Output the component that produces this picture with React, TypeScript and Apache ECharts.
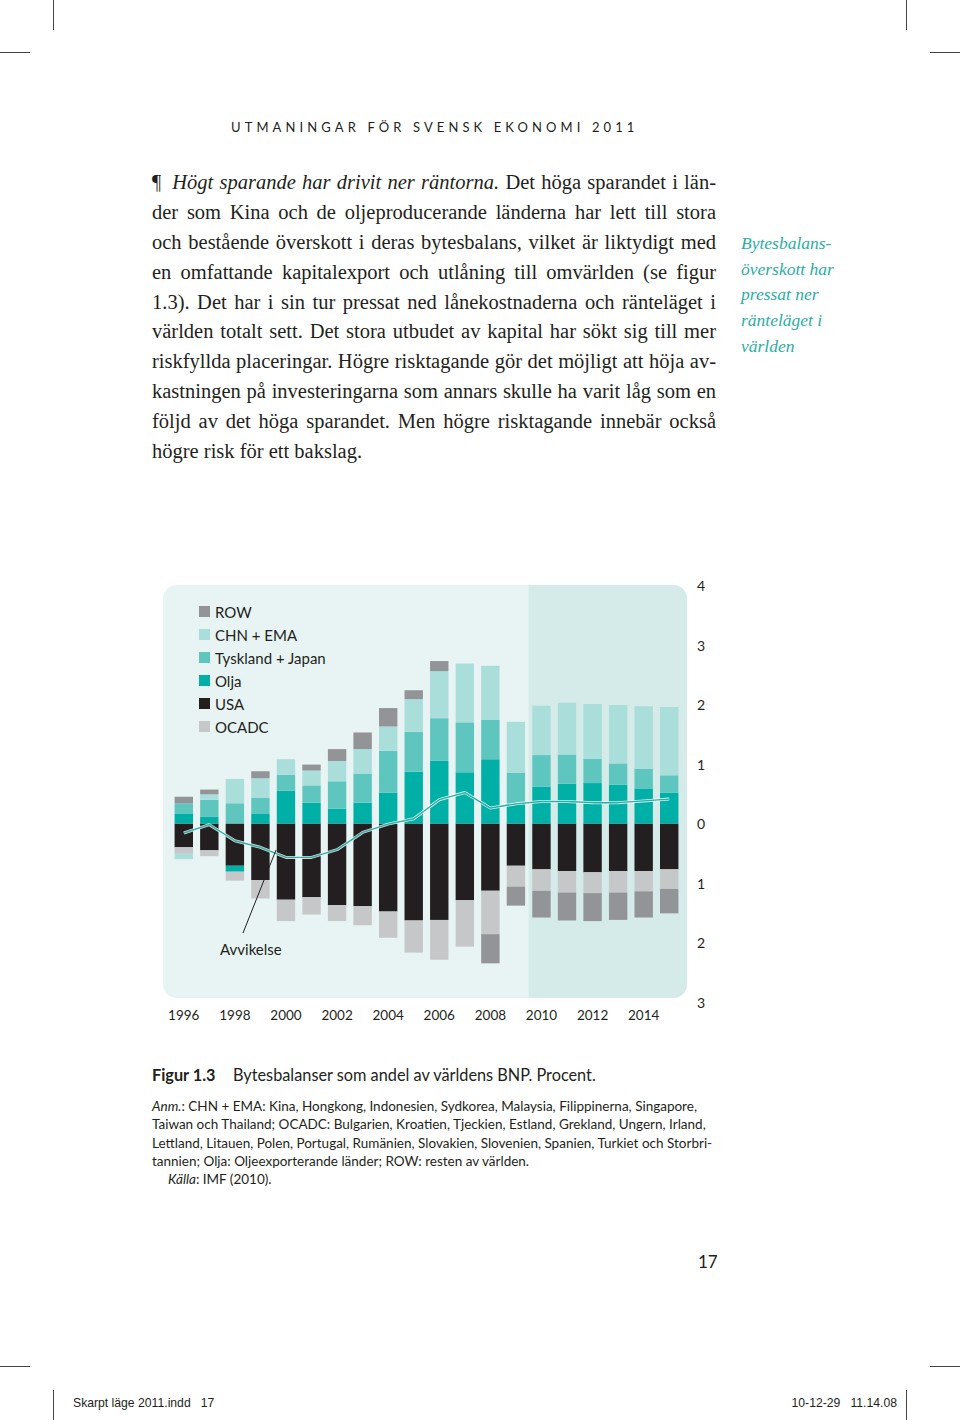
import React, { useEffect, useRef } from "react";
import * as echarts from "echarts";

const years = ["1996","1997","1998","1999","2000","2001","2002","2003","2004","2005","2006","2007","2008","2009","2010","2011","2012","2013","2014","2015"];
const usa = [-0.40,-0.45,-0.71,-0.95,-1.28,-1.24,-1.37,-1.39,-1.48,-1.63,-1.62,-1.29,-1.13,-0.71,-0.77,-0.80,-0.82,-0.80,-0.80,-0.77];
const olja = [0.17,0.11,-0.10,0.16,0.55,0.35,0.25,0.35,0.52,0.87,1.06,0.86,1.08,0.33,0.62,0.67,0.68,0.65,0.59,0.52];
const ocadc = [-0.11,-0.10,-0.15,-0.31,-0.36,-0.29,-0.27,-0.32,-0.44,-0.54,-0.67,-0.78,-0.73,-0.35,-0.36,-0.36,-0.35,-0.36,-0.34,-0.33];
const tyskland = [0.17,0.29,0.34,0.27,0.27,0.29,0.46,0.49,0.70,0.67,0.71,0.84,0.66,0.52,0.53,0.49,0.41,0.36,0.33,0.29];
const chn = [-0.09,0.09,0.41,0.33,0.26,0.25,0.34,0.41,0.41,0.55,0.79,0.99,0.91,0.86,0.83,0.87,0.92,0.98,1.05,1.15];
const row = [0.11,0.08,0,0.12,0,0.10,0.20,0.28,0.31,0.15,0.17,0,-0.49,-0.32,-0.45,-0.47,-0.47,-0.46,-0.44,-0.41];
const avvikelse = [-0.16,-0.02,-0.29,-0.40,-0.57,-0.57,-0.44,-0.15,-0.01,0.08,0.40,0.52,0.26,0.33,0.37,0.37,0.35,0.35,0.38,0.41];
const legendOrder = ["ROW", "CHN + EMA", "Tyskland + Japan", "Olja", "USA", "OCADC"];
const firstForecastYear = "2010";

const C = {
  row: "#929497",
  chn: "#a9dedb",
  tys: "#5fc6bf",
  olja: "#00b0a6",
  usa: "#231f20",
  ocadc: "#c6c7c9",
  line: "#2aaea3",
  bg: "#e7f4f3",
  shade: "#d5ebe9",
};

const SANS = "Lato, 'Open Sans', sans-serif";
const SERIF = "'Liberation Serif', 'DejaVu Serif', serif";

const paraLines: React.ReactNode[] = [
  <>
    <span style={{ marginRight: 11 }}>¶</span>
    <i>Högt sparande har drivit ner räntorna.</i> Det höga sparandet i län-
  </>,
  "der som Kina och de oljeproducerande länderna har lett till stora",
  "och bestående överskott i deras bytesbalans, vilket är liktydigt med",
  "en omfattande kapitalexport och utlåning till omvärlden (se figur",
  "1.3). Det har i sin tur pressat ned lånekostnaderna och ränteläget i",
  "världen totalt sett. Det stora utbudet av kapital har sökt sig till mer",
  "riskfyllda placeringar. Högre risktagande gör det möjligt att höja av-",
  "kastningen på investeringarna som annars skulle ha varit låg som en",
  "följd av det höga sparandet. Men högre risktagande innebär också",
  "högre risk för ett bakslag.",
];

const sideLines = ["Bytesbalans-", "överskott har", "pressat ner", "ränteläget i", "världen"];

const anmLines: React.ReactNode[] = [
  <>
    <i>Anm.</i>: CHN + EMA: Kina, Hongkong, Indonesien, Sydkorea, Malaysia, Filippinerna, Singapore,
  </>,
  "Taiwan och Thailand; OCADC: Bulgarien, Kroatien, Tjeckien, Estland, Grekland, Ungern, Irland,",
  "Lettland, Litauen, Polen, Portugal, Rumänien, Slovakien, Slovenien, Spanien, Turkiet och Storbri-",
  "tannien; Olja: Oljeexporterande länder; ROW: resten av världen.",
  <span style={{ paddingLeft: 16 }}>
    <i>Källa</i>: IMF (2010).
  </span>,
];

const CHART_TOP = 560;

export default function App() {
  const ref = useRef<HTMLDivElement>(null);

  useEffect(() => {
    document.body.style.margin = "0";
    const chart = echarts.init(ref.current!, null, { renderer: "svg" });
    const bar = (name: string, data: number[], color: string) => ({
      type: "bar",
      name,
      data,
      stack: "total",
      barWidth: "72%",
      itemStyle: { color },
      emphasis: { disabled: true },
    });
    const bgTop = 25;
    const bgH = 413;
    const bgLeft = 163;
    const bgRight = 687;
    chart.setOption({
      animation: false,
      grid: { left: 171, top: 25.5, width: 511, height: 416.5, containLabel: false },
      legend: {
        data: legendOrder,
        orient: "vertical",
        left: 194,
        top: 39,
        itemWidth: 11,
        itemHeight: 11,
        itemGap: 8,
        icon: "rect",
        selectedMode: false,
        textStyle: { fontSize: 15, color: "#231f20", fontFamily: SANS },
      },
      xAxis: {
        type: "category",
        data: years,
        axisLine: { show: false, onZero: false },
        axisTick: { show: false },
        splitLine: { show: false },
        axisLabel: { interval: 1, fontSize: 13.5, color: "#231f20", fontFamily: SANS, margin: 6 },
      },
      yAxis: {
        type: "value",
        position: "right",
        min: -3,
        max: 4,
        interval: 1,
        axisLine: { show: false },
        axisTick: { show: false },
        splitLine: { show: false },
        axisLabel: {
          formatter: (v: number) => String(Math.abs(v)),
          fontSize: 14,
          color: "#231f20",
          fontFamily: SANS,
          margin: 15,
        },
      },
      series: [
        bar("USA", usa, C.usa),
        bar("Olja", olja, C.olja),
        bar("OCADC", ocadc, C.ocadc),
        bar("Tyskland + Japan", tyskland, C.tys),
        bar("CHN + EMA", chn, C.chn),
        bar("ROW", row, C.row),
        {
          type: "line",
          name: "Avvikelse-halo",
          data: avvikelse,
          symbol: "none",
          lineStyle: { color: "#ffffff", width: 3, opacity: 0.8 },
          emphasis: { disabled: true },
          z: 4,
        },
        {
          type: "line",
          name: "Avvikelse",
          data: avvikelse,
          symbol: "none",
          lineStyle: { color: C.line, width: 1.4 },
          emphasis: { disabled: true },
          z: 5,
        },
      ],
    });
    const idx = years.indexOf(firstForecastYear);
    const xa = chart.convertToPixel({ xAxisIndex: 0 }, years[idx - 1]) as number;
    const xb = chart.convertToPixel({ xAxisIndex: 0 }, years[idx]) as number;
    const shadeX = (xa + xb) / 2;
    chart.setOption({
      graphic: [
        {
          type: "rect",
          z: -10,
          silent: true,
          shape: { x: bgLeft, y: bgTop, width: bgRight - bgLeft, height: bgH, r: 14 },
          style: { fill: C.bg },
        },
        {
          type: "rect",
          z: -9,
          silent: true,
          shape: { x: shadeX, y: bgTop, width: bgRight - shadeX, height: bgH, r: [0, 14, 14, 0] },
          style: { fill: C.shade },
        },
        {
          type: "line",
          z: 10,
          silent: true,
          shape: { x1: 243, y1: 373, x2: 276, y2: 290 },
          style: { stroke: "#231f20", lineWidth: 1 },
        },
        {
          type: "text",
          z: 10,
          silent: true,
          x: 220,
          y: 389,
          style: {
            text: "Avvikelse",
            fill: "#231f20",
            fontSize: 15,
            fontFamily: SANS,
            verticalAlign: "middle",
          },
        },
      ],
    });
    return () => chart.dispose();
  }, []);

  const mark = (left: number, top: number, w: number, h: number) => (
    <div style={{ position: "absolute", left, top, width: w, height: h, background: "#444" }} />
  );

  return (
    <div
      style={{
        position: "absolute",
        left: 0,
        top: 0,
        width: 960,
        height: 1420,
        background: "#ffffff",
        overflow: "hidden",
        color: "#231f20",
      }}
    >
      {mark(53, 0, 1, 30)}
      {mark(0, 52, 30, 1)}
      {mark(906, 0, 1, 30)}
      {mark(930, 52, 30, 1)}
      {mark(0, 1366, 30, 1)}
      {mark(930, 1366, 30, 1)}
      {mark(53, 1390, 1, 30)}
      {mark(906, 1390, 1, 30)}

      <div
        style={{
          position: "absolute",
          left: 231,
          top: 118,
          fontFamily: SANS,
          fontSize: 13,
          lineHeight: "18px",
          letterSpacing: "4.1px",
          whiteSpace: "nowrap",
        }}
      >
        UTMANINGAR FÖR SVENSK EKONOMI 2011
      </div>

      <div style={{ position: "absolute", left: 152, top: 168, width: 564, fontFamily: SERIF, fontSize: 20.5 }}>
        {paraLines.map((l, i) => (
          <div
            key={i}
            style={{
              height: 29.9,
              lineHeight: "29.9px",
              whiteSpace: "nowrap",
              textAlign: "justify",
              textAlignLast: i === paraLines.length - 1 ? "left" : "justify",
            }}
          >
            {l}
          </div>
        ))}
      </div>

      <div
        style={{
          position: "absolute",
          left: 741,
          top: 231,
          fontFamily: SERIF,
          fontStyle: "italic",
          fontSize: 17.5,
          color: C.line,
        }}
      >
        {sideLines.map((l, i) => (
          <div key={i} style={{ height: 25.7, lineHeight: "25.7px", whiteSpace: "nowrap" }}>
            {l}
          </div>
        ))}
      </div>

      <div ref={ref} style={{ position: "absolute", left: 0, top: CHART_TOP, width: 960, height: 480 }} />

      <div
        style={{
          position: "absolute",
          left: 152,
          top: 1065,
          fontFamily: SANS,
          fontSize: 16.3,
          lineHeight: "20px",
          whiteSpace: "nowrap",
        }}
      >
        <b style={{ display: "inline-block", width: 81 }}>Figur 1.3</b>
        Bytesbalanser som andel av världens BNP. Procent.
      </div>

      <div
        style={{
          position: "absolute",
          left: 152,
          top: 1097,
          fontFamily: SANS,
          fontSize: 13.5,
        }}
      >
        {anmLines.map((l, i) => (
          <div key={i} style={{ height: 18.3, lineHeight: "18.3px", whiteSpace: "nowrap" }}>
            {l}
          </div>
        ))}
      </div>

      <div style={{ position: "absolute", left: 698, top: 1252, fontFamily: SANS, fontSize: 17, lineHeight: "20px" }}>
        17
      </div>

      <div
        style={{
          position: "absolute",
          left: 73,
          top: 1396,
          fontFamily: "'Liberation Sans', Arial, sans-serif",
          fontSize: 12.2,
          lineHeight: "14px",
          whiteSpace: "pre",
        }}
      >
        {"Skarpt läge 2011.indd   17"}
      </div>
      <div
        style={{
          position: "absolute",
          right: 63,
          top: 1396,
          fontFamily: "'Liberation Sans', Arial, sans-serif",
          fontSize: 12.2,
          lineHeight: "14px",
          whiteSpace: "pre",
        }}
      >
        {"10-12-29   11.14.08"}
      </div>
    </div>
  );
}
